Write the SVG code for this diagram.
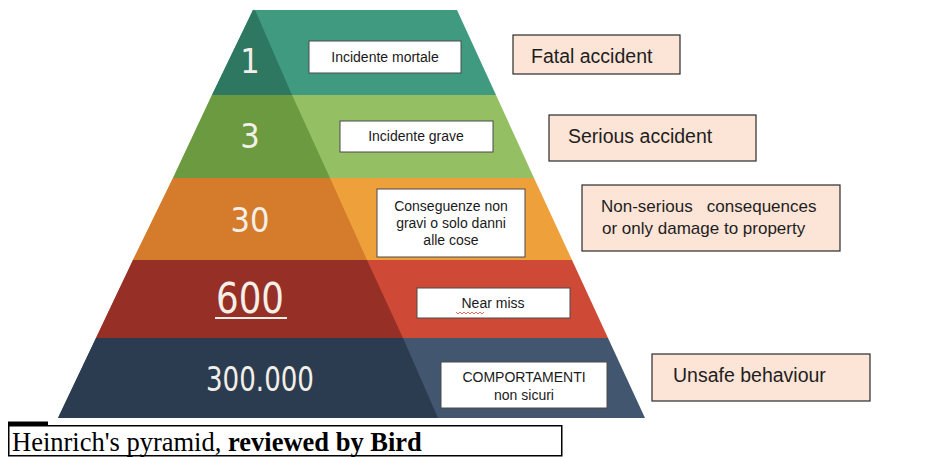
<svg xmlns="http://www.w3.org/2000/svg" width="936" height="457" viewBox="0 0 936 457">
<style>
.num{font-family:"Liberation Sans Narrow","DejaVu Sans Condensed","Roboto",sans-serif;fill:#f3efe8;text-anchor:middle}
.lbox{fill:#ffffff;stroke:#4a4a4a;stroke-width:1}
.ltxt{font-family:"Liberation Sans",Arial,sans-serif;font-size:14px;fill:#1a1a1a;text-anchor:middle}
.rbox{fill:#fce4d6;stroke:#2b2b2b;stroke-width:1.2}
.rtxt{font-family:"Liberation Sans",Arial,sans-serif;fill:#1e1e1e}
.cap{font-family:"Liberation Serif","Times New Roman",serif;font-size:26.5px;fill:#000}
</style>
<rect width="936" height="457" fill="#ffffff"/>

<g id="band-1">
<polygon points="253,10 457,10 496,95 212,95" fill="#3f9a80"/>
<polygon points="253,10 255,10 292,95 212,95" fill="#2e7761"/>
<text class="num" x="250" y="73" font-size="34">1</text>
<rect class="lbox" x="309" y="41" width="152" height="32"/>
<text class="ltxt" x="385" y="62">Incidente mortale</text>
</g>

<g id="band-2">
<polygon points="212,95 496,95 534,178 173,178" fill="#95bf63"/>
<polygon points="212,95 292,95 330,178 173,178" fill="#6b9a40"/>
<text class="num" x="250" y="148" font-size="34">3</text>
<rect class="lbox" x="340" y="121" width="153" height="31"/>
<text class="ltxt" x="416" y="141">Incidente grave</text>
</g>

<g id="band-3">
<polygon points="173,178 534,178 572,260 133,260" fill="#eea03b"/>
<polygon points="173,178 330,178 367,260 133,260" fill="#d47b2c"/>
<text class="num" x="250" y="232" font-size="34">30</text>
<rect class="lbox" x="377" y="189" width="148" height="68"/>
<text class="ltxt"><tspan x="451" y="211">Conseguenze non</tspan><tspan x="451" y="228">gravi o solo danni</tspan><tspan x="451" y="245">alle cose</tspan></text>
</g>

<g id="band-4">
<polygon points="133,260 572,260 608,338 96,338" fill="#cf4a36"/>
<polygon points="133,260 367,260 403,338 96,338" fill="#963026"/>
<text class="num" x="250" y="313" font-size="42" textLength="68" lengthAdjust="spacingAndGlyphs">600</text>
<rect x="215" y="317" width="72" height="2" fill="#f3efe8"/>
<rect class="lbox" x="417" y="288" width="153" height="30"/>
<text class="ltxt" x="493" y="308">Near miss</text>
<polyline points="456,312 458,314 460,312 462,314 464,312 466,314 468,312 470,314 472,312 474,314 476,312 478,314 480,312 482,314 484,312" fill="none" stroke="#d9463a" stroke-width="0.8"/>
</g>

<g id="band-5">
<polygon points="96,338 608,338 645,418 58,418" fill="#43566f"/>
<polygon points="96,338 403,338 438,418 58,418" fill="#2c3c50"/>
<text class="num" x="260" y="391" font-size="34" textLength="108" lengthAdjust="spacingAndGlyphs">300.000</text>
<rect class="lbox" x="441" y="362" width="166" height="46"/>
<text class="ltxt" font-size="13.5"><tspan x="524" y="382">COMPORTAMENTI</tspan><tspan x="524" y="400">non sicuri</tspan></text>
</g>

<g id="fatal-accident">
<rect class="rbox" x="513" y="35" width="167" height="39"/>
<text class="rtxt" x="531" y="63" font-size="19.5">Fatal accident</text>
</g>

<g id="serious-accident">
<rect class="rbox" x="549" y="115" width="207" height="46"/>
<text class="rtxt" x="568" y="143" font-size="19.5">Serious accident</text>
</g>

<g id="non-serious">
<rect class="rbox" x="582" y="185" width="258" height="66"/>
<text class="rtxt" font-size="17" style="white-space:pre"><tspan x="601" y="212">Non-serious   consequences</tspan><tspan x="602" y="234">or only damage to property</tspan></text>
</g>

<g id="unsafe-behaviour">
<rect class="rbox" x="652" y="354" width="218" height="47"/>
<text class="rtxt" x="673" y="382" font-size="19.5">Unsafe behaviour</text>
</g>

<g id="caption">
<rect x="8" y="421.5" width="40" height="3.5" fill="#000"/>
<rect x="8.75" y="425.75" width="553" height="30" fill="none" stroke="#000" stroke-width="1.5"/>
<text class="cap" x="12" y="451">Heinrich's pyramid, <tspan font-weight="bold">reviewed by Bird</tspan></text>
</g>
</svg>
